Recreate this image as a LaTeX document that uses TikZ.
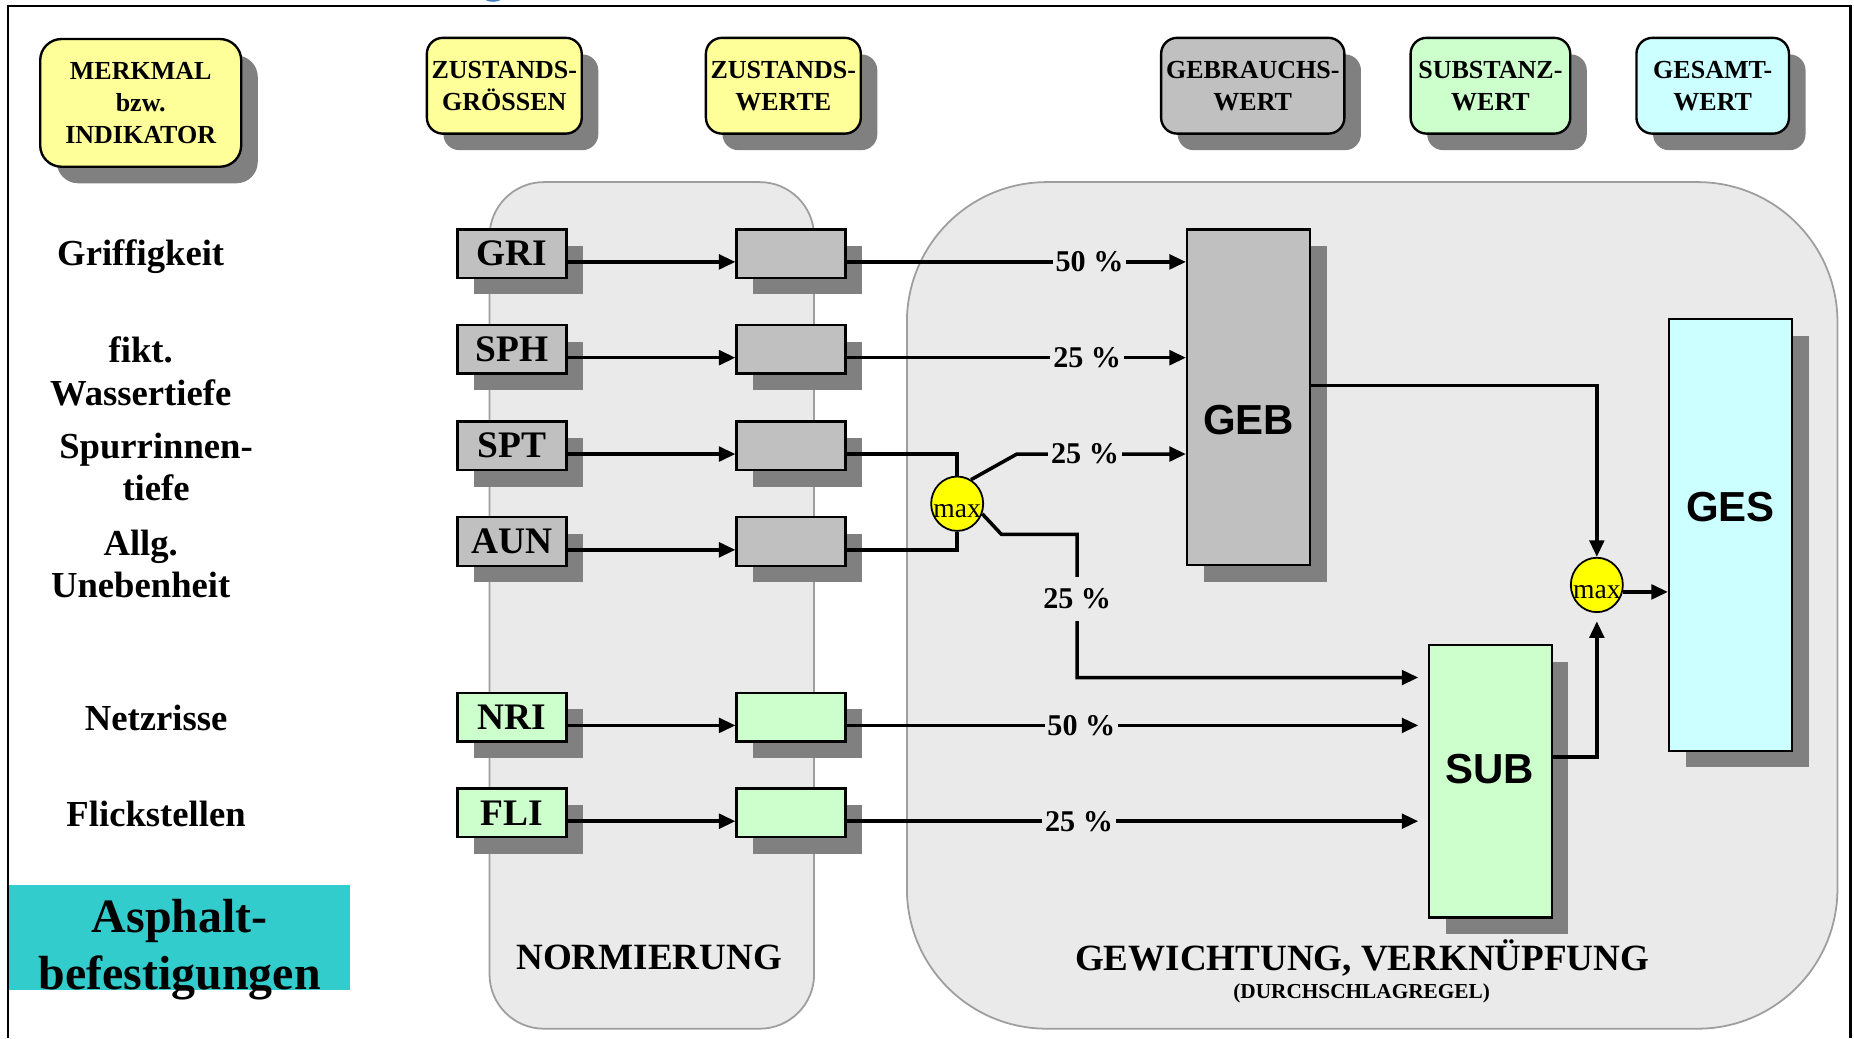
\documentclass[tikz,border=0pt]{standalone}
\usepackage{fontspec}
\setmainfont{Liberation Serif}
\setsansfont{Liberation Sans}
\usetikzlibrary{calc,shapes.geometric,shadows,arrows.meta}
\definecolor{hdryellow}{HTML}{FFFF99}
\definecolor{boxgray}{HTML}{C0C0C0}
\definecolor{valgreen}{HTML}{CCFFCC}
\definecolor{valcyan}{HTML}{CCFFFF}
\definecolor{panelgray}{HTML}{EAEAEA}
\definecolor{panelline}{HTML}{9E9E9E}
\definecolor{shadowgray}{HTML}{808080}
\definecolor{asphteal}{HTML}{33CCCC}
\definecolor{maxyellow}{HTML}{FFFF00}
\definecolor{titleblue}{HTML}{3F7FBF}
\def\hdrfont{\fontsize{13.2pt}{16.2pt}\selectfont\bfseries}
\def\lblfont{\fontsize{18.6pt}{21.6pt}\selectfont\bfseries}
\def\boxfont{\fontsize{19pt}{22pt}\selectfont\bfseries}
\def\pctfont{\fontsize{15.3pt}{18pt}\selectfont\bfseries}
\def\bigfont{\fontsize{21.3pt}{25pt}\selectfont\sffamily\bfseries}
\def\maxfont{\fontsize{14pt}{16pt}\selectfont}
\def\titlefont{\fontsize{18.8pt}{22pt}\selectfont\bfseries}
\def\smallfont{\fontsize{10.8pt}{13pt}\selectfont\bfseries}
\def\asphfont{\fontsize{24.3pt}{28.7pt}\selectfont\bfseries}
\tikzset{
	shd/.style={drop shadow={shadow xshift=8.4pt,shadow yshift=-8.4pt,fill=shadowgray,opacity=1}},
	hdr/.style={draw,line width=1.2pt,rounded corners=8.1pt,shd,align=center,inner sep=0pt,font=\hdrfont,minimum height=48.6pt},
	indbox/.style={draw,line width=1.2pt,shd,minimum width=55.2pt,minimum height=24.6pt,inner sep=0pt,font=\boxfont},
	bigbox/.style={draw,line width=1.2pt,shd,minimum width=62.4pt,inner sep=0pt},
	maxnode/.style={ellipse,draw,line width=0.9pt,fill=maxyellow,minimum width=26.4pt,minimum height=27.6pt,inner sep=0pt,font=\maxfont,text height=14pt,text depth=0pt},
	lbl/.style={align=center,font=\lblfont},
	pct/.style={fill=panelgray,inner xsep=1.5pt,inner ysep=6pt,font=\pctfont},
	panel/.style={fill=panelgray,draw=panelline,line width=0.9pt},
	conn/.style={line width=1.8pt},
	arr/.style={line width=1.8pt,-{Triangle[length=8.4pt,width=7.4pt]}}
}

\begin{document}
\begin{tikzpicture}[x=0.6pt,y=-0.6pt]
				\useasboundingbox (0,0) rectangle (1568,878);
				
				\fill[titleblue] (417,-3) ellipse [x radius=5.1pt,y radius=2.7pt];
				\draw[line width=1.2pt] (7,878) -- (7,5) -- (1565,5) -- (1565,878);
				
				\draw[panel,rounded corners=27.6pt] (414,154) rectangle (688.5,870);
				\draw[panel,rounded corners=71pt] (767,154) rectangle (1554,870);
				
				\node[hdr,fill=hdryellow,minimum width=102pt,minimum height=64.8pt,rounded corners=10.8pt] (merkmal) at (119,87) {MERKMAL\\bzw.\\INDIKATOR};
				\node[hdr,fill=hdryellow,minimum width=78.6pt] (zgroessen) at (426.5,72.5) {ZUSTANDS-\\GRÖSSEN};
				\node[hdr,fill=hdryellow,minimum width=78.6pt] (zwerte) at (662.5,72.5) {ZUSTANDS-\\WERTE};
				\node[hdr,fill=boxgray,minimum width=93pt] (gebwert) at (1059.5,72.5) {GEBRAUCHS-\\WERT};
				\node[hdr,fill=valgreen,minimum width=81pt] (subwert) at (1260.5,72.5) {SUBSTANZ-\\WERT};
				\node[hdr,fill=valcyan,minimum width=77.4pt] (geswert) at (1448.5,72.5) {GESAMT-\\WERT};
				
				\node[lbl] (l-gri) at (119,217) {Griffigkeit};
				\node[lbl] (l-sph) at (119,314) {fikt.\\Wassertiefe};
				\node[lbl] (l-spt) at (132,395) {Spurrinnen-\\tiefe};
				\node[lbl] (l-aun) at (119,477) {Allg.\\Unebenheit};
				\node[lbl] (l-nri) at (132,607) {Netzrisse};
				\node[lbl] (l-fli) at (132,688) {Flickstellen};
				
				\fill[asphteal] (8,748.5) rectangle (296,837);
				\node[align=center,font=\asphfont] (asphalt) at (152,803) {Asphalt-\\befestigungen};
				
				\node[indbox,fill=boxgray] (gri) at (433,214.5) {GRI};
				\node[indbox,fill=boxgray] (sph) at (433,295.5) {SPH};
				\node[indbox,fill=boxgray] (spt) at (433,377) {SPT};
				\node[indbox,fill=boxgray] (aun) at (433,458) {AUN};
				\node[indbox,fill=valgreen] (nri) at (433,606.5) {NRI};
				\node[indbox,fill=valgreen] (fli) at (433,687.5) {FLI};
				
				\node[indbox,fill=boxgray] (gri-v) at (669,214.5) {};
				\node[indbox,fill=boxgray] (sph-v) at (669,295.5) {};
				\node[indbox,fill=boxgray] (spt-v) at (669,377) {};
				\node[indbox,fill=boxgray] (aun-v) at (669,458) {};
				\node[indbox,fill=valgreen] (nri-v) at (669,606.5) {};
				\node[indbox,fill=valgreen] (fli-v) at (669,687.5) {};
				
				\node[bigbox,fill=boxgray,minimum height=170.4pt] (geb) at (1056,336) {};
				\node[bigbox,fill=valgreen,minimum height=138.3pt] (sub) at (1260.5,660.75) {};
				\node[bigbox,fill=valcyan,minimum height=219pt] (ges) at (1463.6,452.5) {};
				\node[font=\bigfont] (geb-t) at (1056,355) {GEB};
				\node[font=\bigfont] (sub-t) at (1260,650) {SUB};
				\node[font=\bigfont] (ges-t) at (1463.6,428.5) {GES};
				
				\node[maxnode] (max1) at (809.5,426) {\makebox[0pt]{max}};
				\node[maxnode] (max2) at (1350.5,494.7) {\makebox[0pt]{max}};
				
				\node[font=\titlefont] (normierung) at (549,810) {NORMIERUNG};
				\node[font=\titlefont] (gewichtung) at (1152,810) {GEWICHTUNG, VERKNÜPFUNG};
				\node[font=\smallfont] (durchschlag) at (1151.6,840) {(DURCHSCHLAGREGEL)};
				
				\draw[arr] ($(gri.east)+(0,7)$) -- ($(gri-v.west)+(0,7)$);
				\draw[arr] ($(sph.east)+(0,7)$) -- ($(sph-v.west)+(0,7)$);
				\draw[arr] ($(spt.east)+(0,7)$) -- ($(spt-v.west)+(0,7)$);
				\draw[arr] ($(aun.east)+(0,7)$) -- ($(aun-v.west)+(0,7)$);
				\draw[arr] ($(nri.east)+(0,7)$) -- ($(nri-v.west)+(0,7)$);
				\draw[arr] ($(fli.east)+(0,7)$) -- ($(fli-v.west)+(0,7)$);
				
				\coordinate (gri-o) at ($(gri-v.east)+(0,7)$);
				\coordinate (sph-o) at ($(sph-v.east)+(0,7)$);
				\coordinate (spt-o) at ($(spt-v.east)+(0,7)$);
				\coordinate (aun-o) at ($(aun-v.east)+(0,7)$);
				\coordinate (nri-o) at ($(nri-v.east)+(0,7)$);
				\coordinate (fli-o) at ($(fli-v.east)+(0,7)$);
				\coordinate (knick1) at (860,384);
				\coordinate (knick2) at (847,452);
				\coordinate (knick3) at (911,573);
				\coordinate (max2-o) at (max2.-15);
				
				\draw[arr] (gri-o) -- node[pct,pos=0.716] {50 \%} (gri-o -| geb.west);
				\draw[arr] (sph-o) -- node[pct,pos=0.709] {25 \%} (sph-o -| geb.west);
				\draw[conn] (spt-o) -| (max1.north);
				\draw[conn] (aun-o) -| (max1.south);
				\draw[arr] (max1.60) -- (knick1) -- node[pct,pos=0.403] {25 \%} (knick1 -| geb.west);
				\draw[arr,shorten >=4.8pt] (max1.-22) -- (knick2) -- (knick2 -| knick3) -- node[pct,pos=0.45] {25 \%} (knick3) -- (knick3 -| sub.west);
				\draw[arr,shorten >=4.8pt] (nri-o) -- node[pct,pos=0.404] {50 \%} (nri-o -| sub.west);
				\draw[arr,shorten >=4.8pt] (fli-o) -- node[pct,pos=0.40] {25 \%} (fli-o -| sub.west);
				
				\draw[arr] ([yshift=6pt]geb.east) -| (max2.north);
				\draw[arr,shorten >=4.2pt] ([yshift=12.4pt]sub.east) -| (max2.south);
				\draw[arr] (max2-o) -- (max2-o -| ges.west);
\end{tikzpicture}
\end{document}
